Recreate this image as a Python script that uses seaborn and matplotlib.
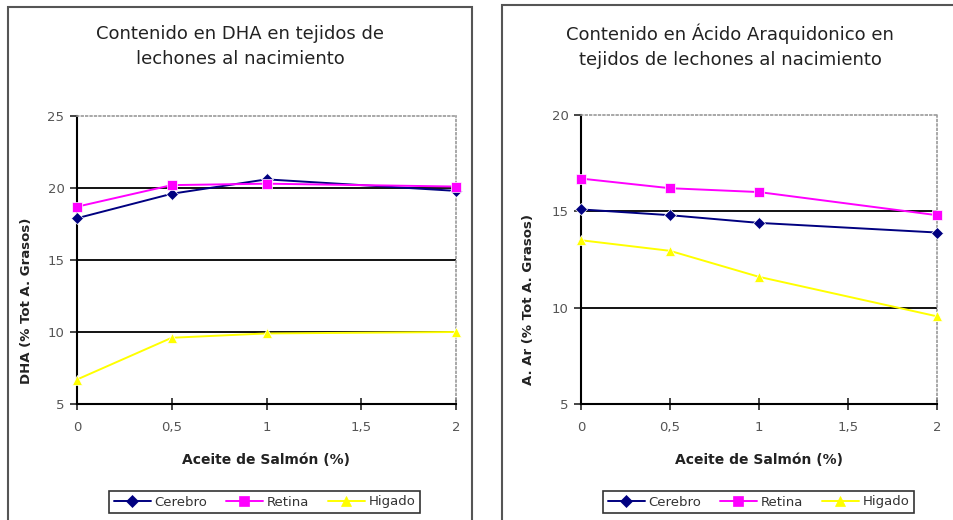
import pandas as pd
import matplotlib.pyplot as plt
import seaborn as sns
from matplotlib.patches import Rectangle
from matplotlib.lines import Line2D

# datos
aceite = [0, 0.5, 1, 2]
dha_cerebro = [17.9, 19.6, 20.6, 19.8]
dha_retina = [18.7, 20.2, 20.3, 20.1]
dha_higado = [6.7, 9.6, 9.9, 10.0]
aa_cerebro = [15.1, 14.8, 14.4, 13.9]
aa_retina = [16.7, 16.2, 16.0, 14.8]
aa_higado = [13.5, 12.95, 11.6, 9.55]

tejidos = ["Cerebro", "Retina", "Higado"]
colores = {"Cerebro": "#000080", "Retina": "#FF00FF", "Higado": "#FFFF00"}
marcadores = {"Cerebro": "D", "Retina": "s", "Higado": "^"}
xticks = [0, 0.5, 1, 1.5, 2]
xtick_labels = ["0", "0,5", "1", "1,5", "2"]

sns.set_style("white")
plt.rcParams['font.family'] = ['DejaVu Sans']


def tabla(cer, ret, hig):
    filas = []
    for t, vals in zip(tejidos, [cer, ret, hig]):
        for x, v in zip(aceite, vals):
            filas.append({"Aceite": x, "Valor": v, "Tejido": t})
    return pd.DataFrame(filas)


def panel(ax, df, ylim, yticks, ylabel):
    sns.lineplot(data=df, x="Aceite", y="Valor", hue="Tejido", style="Tejido",
                 palette=colores, markers=marcadores, dashes=False, ax=ax,
                 linewidth=1.4, markersize=6.5, markeredgewidth=0.5, legend=False,
                 zorder=3, clip_on=False)
    ax.set_xlim(0, 2)
    ax.set_ylim(*ylim)
    ax.set_yticks(yticks)
    ax.set_xticks(xticks)
    ax.set_xticklabels(xtick_labels)
    for y in yticks[1:-1]:
        ax.axhline(y, color="black", lw=1.3, zorder=1)
    for s in ["top", "right"]:
        ax.spines[s].set_color("#999999")
        ax.spines[s].set_linestyle(":")
        ax.spines[s].set_linewidth(1.2)
    for s in ["left", "bottom"]:
        ax.spines[s].set_color("black")
        ax.spines[s].set_linewidth(1.5)
    ax.tick_params(axis="y", direction="out", length=5, width=1.2, left=True,
                   labelsize=9.5, labelcolor="#555555", pad=4)
    ax.tick_params(axis="x", direction="inout", length=8, width=1.2, bottom=True,
                   labelsize=9.5, labelcolor="#555555", pad=8)
    ax.set_xlabel("Aceite de Salmón (%)", fontsize=10, fontweight="bold",
                  color="#222222", labelpad=14)
    ax.set_ylabel(ylabel, fontsize=9.5, fontweight="bold", color="#222222")


fig = plt.figure(figsize=(9.54, 5.2), dpi=100)

ax1 = fig.add_axes([77 / 954, 1 - 404 / 520, 379 / 954, 288 / 520])
ax2 = fig.add_axes([581 / 954, 1 - 404 / 520, 356 / 954, 289 / 520])

panel(ax1, tabla(dha_cerebro, dha_retina, dha_higado), (5, 25), [5, 10, 15, 20, 25],
      "DHA (% Tot A. Grasos)")
panel(ax2, tabla(aa_cerebro, aa_retina, aa_higado), (5, 20), [5, 10, 15, 20],
      "A. Ar (% Tot A. Grasos)")
ax1.yaxis.set_label_coords(-0.115, 0.36)
ax2.yaxis.set_label_coords(-0.13, 0.36)

# titulos
fig.text(240 / 954, 1 - 46.5 / 520, "Contenido en DHA en tejidos de\nlechones al nacimiento",
         ha="center", va="center", fontsize=13, color="#222222", linespacing=1.5)
fig.text(730 / 954, 1 - 46.5 / 520, "Contenido en Ácido Araquidonico en\ntejidos de lechones al nacimiento",
         ha="center", va="center", fontsize=13, color="#222222", linespacing=1.5)

# marcos de cada grafico
fig.add_artist(Rectangle((8 / 954, -0.1), 464 / 954, 1.1 - 7 / 520,
                         transform=fig.transFigure, fill=False, ec="#555555", lw=1.5))
fig.add_artist(Rectangle((502 / 954, -0.1), 460 / 954, 1.1 - 5 / 520,
                         transform=fig.transFigure, fill=False, ec="#555555", lw=1.5))

# leyendas
handles = [Line2D([0], [0], color=colores[t], marker=marcadores[t], markersize=6.5,
                  lw=1.4, markeredgewidth=0.5) for t in tejidos]
for cx in [264.5 / 954, 758.5 / 954]:
    leg = fig.legend(handles, tejidos, loc="center", bbox_to_anchor=(cx, 1 - 502 / 520),
                     ncol=3, frameon=True, fancybox=False, edgecolor="black",
                     fontsize=9.5, handlelength=2.8, handletextpad=0.3,
                     columnspacing=1.4, borderpad=0.35, labelcolor="#333333")
    leg.get_frame().set_linewidth(1.2)

plt.savefig("out.png", dpi=100)
